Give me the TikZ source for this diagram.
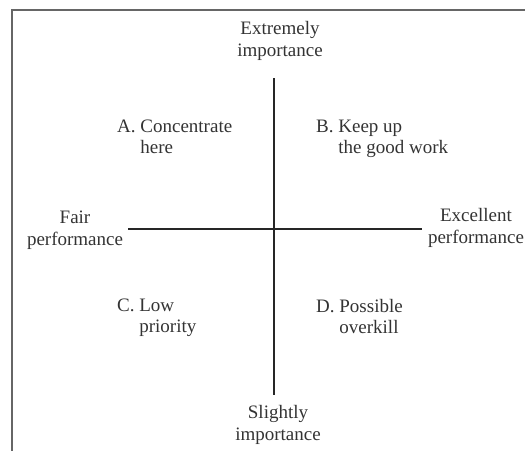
\documentclass[tikz,border=0pt]{standalone}
\usepackage{fontspec}
\setmainfont{Liberation Serif}

\def\cx{274}
\def\cy{229}

\begin{document}
\begin{tikzpicture}[x=1pt,y=-1pt,
  axis/.style={line width=1.4pt, draw=black!85},
  frame/.style={line width=1.6pt, draw=black!60},
  lab/.style={align=center, inner sep=0pt, text=black!80, font=\fontsize{19}{22}\selectfont},
  quad/.style={align=left, inner sep=0pt, anchor=north west, text=black!80, font=\fontsize{19}{21}\selectfont}]
\useasboundingbox (0,0) rectangle (525,451);

% outer frame (only top and left edges show)
\draw[frame] (525,10) -- (12,10) -- (12,451);

% axis ends
\coordinate (ytop) at (\cx,78);
\coordinate (ybot) at (\cx,395);
\coordinate (xlft) at (128,\cy);
\coordinate (xrgt) at (422,\cy);

% axes
\draw[axis] (ytop) -- (ybot);
\draw[axis] (xlft) -- (xrgt);

% axis labels
\node[lab] (imphi) at (280,41) {Extremely\\importance};
\node[lab] (implo) at (278,425) {Slightly\\importance};
\node[lab] (perflo) at (75,230) {Fair\\performance};
\node[lab] (perfhi) at (476,228) {Excellent\\performance};

% quadrants
\node[quad] (qa) at (117,120) {A.~Concentrate\\\phantom{A.~}here};
\node[quad] (qb) at (316,120) {B.~Keep up\\\phantom{B.~}the good work};
\node[quad] (qc) at (117,299) {C.~Low\\\phantom{C.~}priority};
\node[quad] (qd) at (316,299) {D.~Possible\\\phantom{D.~}overkill};
\end{tikzpicture}
\end{document}
